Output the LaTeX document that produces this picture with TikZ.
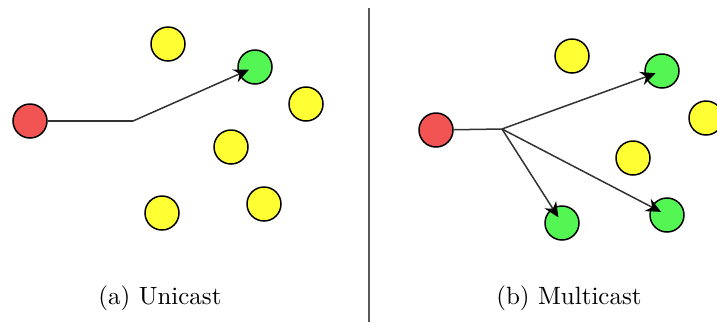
\documentclass[tikz,border=0pt]{standalone}
\usetikzlibrary{arrows.meta}
\definecolor{srcred}{RGB}{242,84,84}
\definecolor{dstgreen}{RGB}{84,246,84}
\definecolor{idleyellow}{RGB}{255,255,51}
\definecolor{linkgray}{RGB}{50,50,50}
\begin{document}
\begin{tikzpicture}[x=0.4pt,y=-0.4pt,
  host/.style={circle,draw=black,line width=0.6pt,minimum size=13.6pt,inner sep=0pt},
  src/.style={host,fill=srcred},
  dst/.style={host,fill=dstgreen},
  idle/.style={host,fill=idleyellow},
  link/.style={draw=linkgray,line width=0.6pt},
  flow/.style={link,-{Stealth[length=6pt,width=5.5pt,color=black]},shorten >=-4.4pt},
  caption/.style={font=\normalsize}]
\useasboundingbox (0,0) rectangle (717,322);
\begin{scope}
\clip (0,0) rectangle (717,322);
% (a) Unicast
\node[src]  (a0) at (30,121) {};
\node[idle] (a1) at (168,44) {};
\node[dst]  (a2) at (255,67) {};
\node[idle] (a3) at (306,104) {};
\node[idle] (a4) at (231,147) {};
\node[idle] (a5) at (162,213) {};
\node[idle] (a6) at (264,204) {};
\coordinate (abend) at (133,121);
\draw[link] (a0) -- (abend);
\draw[flow] (abend) -- (a2);
% (b) Multicast
\node[src]  (b0) at (436,130) {};
\node[idle] (b1) at (572,56) {};
\node[dst]  (b2) at (662,71) {};
\node[idle] (b3) at (706,118) {};
\node[idle] (b4) at (633,158) {};
\node[dst]  (b5) at (562,223) {};
\node[dst]  (b6) at (667,215) {};
\coordinate (bsplit) at (502,129);
\draw[link] (b0) -- (bsplit);
\draw[flow] (bsplit) -- (b2);
\draw[flow] (bsplit) -- (b5);
\draw[flow] (bsplit) -- (b6);
\end{scope}
% separator between the two panels
\coordinate (septop) at (369,8);
\coordinate (sepbot) at (369,322);
\draw[draw=black!65,line width=0.6pt] (septop) -- (sepbot);
% captions
\node[caption] (capa) at (160,298) {(a) Unicast};
\node[caption] (capb) at (569,298) {(b) Multicast};
\end{tikzpicture}
\end{document}
